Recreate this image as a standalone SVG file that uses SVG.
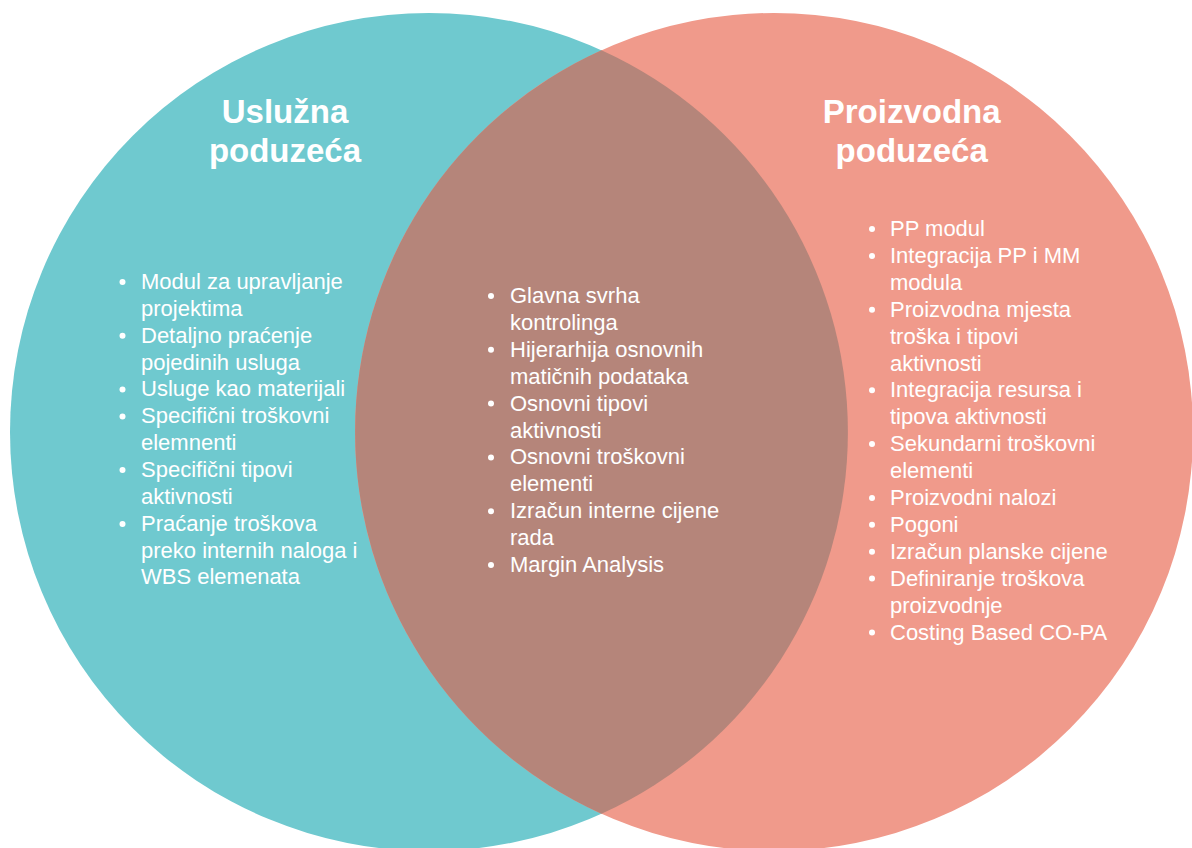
<svg xmlns="http://www.w3.org/2000/svg" width="1192" height="848" viewBox="0 0 1192 848">
<style>
.t{font-family:"Liberation Sans",Arial,sans-serif;fill:#fff;}
.h{font-size:33px;font-weight:bold;text-anchor:middle;}
.i{font-size:22px;}
.b{fill:#fff;}
</style>
<rect width="1192" height="848" fill="#fff"/>
<g id="left-set">
<circle cx="429" cy="432" r="419" fill="#6FC9CF"/>
</g>
<g id="right-set">
<circle cx="774" cy="432" r="419" fill="#F09A8B"/>
</g>
<g id="overlap">
<path d="M601.5 50.2 A419 419 0 0 1 601.5 813.8 A419 419 0 0 1 601.5 50.2 Z" fill="#B5857A"/>
</g>
<g id="left-label" class="t">
<text class="t h" x="285" y="123">Uslužna</text>
<text class="t h" x="285" y="162">poduzeća</text>
<g class="b">
<circle cx="122.5" cy="282" r="3"/>
<circle cx="122.5" cy="335.8" r="3"/>
<circle cx="122.5" cy="389.5" r="3"/>
<circle cx="122.5" cy="416.4" r="3"/>
<circle cx="122.5" cy="470.1" r="3"/>
<circle cx="122.5" cy="523.9" r="3"/>
</g>
<text class="t i" x="141" y="289">Modul za upravljanje</text>
<text class="t i" x="141" y="315.8">projektima</text>
<text class="t i" x="141" y="342.7">Detaljno praćenje</text>
<text class="t i" x="141" y="369.5">pojedinih usluga</text>
<text class="t i" x="141" y="396.4">Usluge kao materijali</text>
<text class="t i" x="141" y="423.2">Specifični troškovni</text>
<text class="t i" x="141" y="450.1">elemnenti</text>
<text class="t i" x="141" y="476.9">Specifični tipovi</text>
<text class="t i" x="141" y="503.8">aktivnosti</text>
<text class="t i" x="141" y="530.6">Praćanje troškova</text>
<text class="t i" x="141" y="557.5">preko internih naloga i</text>
<text class="t i" x="141" y="584.3">WBS elemenata</text>
</g>
<g id="center-label" class="t">
<g class="b">
<circle cx="491" cy="296" r="3"/>
<circle cx="491" cy="349.8" r="3"/>
<circle cx="491" cy="403.6" r="3"/>
<circle cx="491" cy="457.4" r="3"/>
<circle cx="491" cy="511.2" r="3"/>
<circle cx="491" cy="565" r="3"/>
</g>
<text class="t i" x="510" y="303">Glavna svrha</text>
<text class="t i" x="510" y="329.9">kontrolinga</text>
<text class="t i" x="510" y="356.8">Hijerarhija osnovnih</text>
<text class="t i" x="510" y="383.7">matičnih podataka</text>
<text class="t i" x="510" y="410.6">Osnovni tipovi</text>
<text class="t i" x="510" y="437.5">aktivnosti</text>
<text class="t i" x="510" y="464.4">Osnovni troškovni</text>
<text class="t i" x="510" y="491.3">elementi</text>
<text class="t i" x="510" y="518.2">Izračun interne cijene</text>
<text class="t i" x="510" y="545.1">rada</text>
<text class="t i" x="510" y="572">Margin Analysis</text>
</g>
<g id="right-label" class="t">
<text class="t h" x="911.7" y="123">Proizvodna</text>
<text class="t h" x="911.7" y="162">poduzeća</text>
<g class="b">
<circle cx="872" cy="229" r="3"/>
<circle cx="872" cy="255.9" r="3"/>
<circle cx="872" cy="309.7" r="3"/>
<circle cx="872" cy="390.3" r="3"/>
<circle cx="872" cy="444.1" r="3"/>
<circle cx="872" cy="497.9" r="3"/>
<circle cx="872" cy="524.8" r="3"/>
<circle cx="872" cy="551.7" r="3"/>
<circle cx="872" cy="578.6" r="3"/>
<circle cx="872" cy="632.4" r="3"/>
</g>
<text class="t i" x="890" y="236">PP modul</text>
<text class="t i" x="890" y="262.9">Integracija PP i MM</text>
<text class="t i" x="890" y="289.8">modula</text>
<text class="t i" x="890" y="316.7">Proizvodna mjesta</text>
<text class="t i" x="890" y="343.6">troška i tipovi</text>
<text class="t i" x="890" y="370.5">aktivnosti</text>
<text class="t i" x="890" y="397.4">Integracija resursa i</text>
<text class="t i" x="890" y="424.3">tipova aktivnosti</text>
<text class="t i" x="890" y="451.2">Sekundarni troškovni</text>
<text class="t i" x="890" y="478.1">elementi</text>
<text class="t i" x="890" y="505">Proizvodni nalozi</text>
<text class="t i" x="890" y="531.9">Pogoni</text>
<text class="t i" x="890" y="558.8">Izračun planske cijene</text>
<text class="t i" x="890" y="585.7">Definiranje troškova</text>
<text class="t i" x="890" y="612.6">proizvodnje</text>
<text class="t i" x="890" y="639.5">Costing Based CO-PA</text>
</g>
</svg>
